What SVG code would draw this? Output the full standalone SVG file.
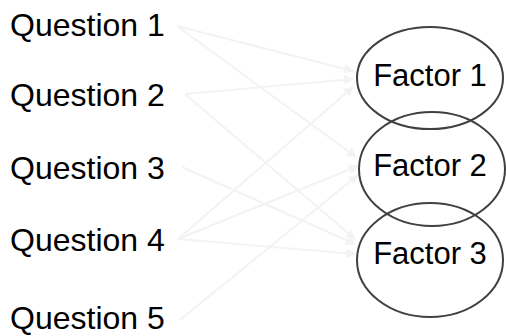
<svg xmlns="http://www.w3.org/2000/svg" width="506" height="336" viewBox="0 0 506 336">
<style>
  .q { font-family: "Liberation Sans", Arial, sans-serif; font-size: 32px; fill: #000; }
  .f { font-family: "Liberation Sans", Arial, sans-serif; font-size: 31px; fill: #000; text-anchor: middle; }
  .e { fill: none; stroke: #404040; stroke-width: 2; }
  .c line { stroke: #f3f3f3; stroke-width: 2; marker-end: url(#arr); }
</style>
<defs>
  <marker id="arr" viewBox="0 0 10 10" refX="9" refY="5" markerWidth="5" markerHeight="5" orient="auto" markerUnits="strokeWidth">
    <path d="M0,0 L10,5 L0,10 z" fill="#f3f3f3"/>
  </marker>
</defs>
<rect width="506" height="336" fill="#fff"/>
<g class="c" id="connectors">
  <line x1="177" y1="26" x2="353" y2="71"/>
  <line x1="177" y1="26" x2="356" y2="157"/>
  <line x1="185" y1="94" x2="353" y2="79"/>
  <line x1="185" y1="94" x2="355" y2="239"/>
  <line x1="182" y1="167" x2="355" y2="244"/>
  <line x1="178" y1="239" x2="353" y2="87"/>
  <line x1="178" y1="239" x2="358" y2="166"/>
  <line x1="178" y1="239" x2="355" y2="254"/>
  <line x1="180" y1="320" x2="358" y2="175"/>
</g>
<g id="q1"><text class="q" x="10" y="36">Question 1</text></g>
<g id="q2"><text class="q" x="10" y="106">Question 2</text></g>
<g id="q3"><text class="q" x="10" y="179">Question 3</text></g>
<g id="q4"><text class="q" x="10" y="251">Question 4</text></g>
<g id="q5"><text class="q" x="10" y="329">Question 5</text></g>
<g id="f1"><ellipse class="e" cx="430" cy="78" rx="73" ry="51"/><text class="f" x="430" y="86">Factor 1</text></g>
<g id="f2"><ellipse class="e" cx="432" cy="169" rx="73" ry="57"/><text class="f" x="430" y="176">Factor 2</text></g>
<g id="f3"><ellipse class="e" cx="430" cy="260" rx="73" ry="57"/><text class="f" x="430" y="264">Factor 3</text></g>
</svg>
